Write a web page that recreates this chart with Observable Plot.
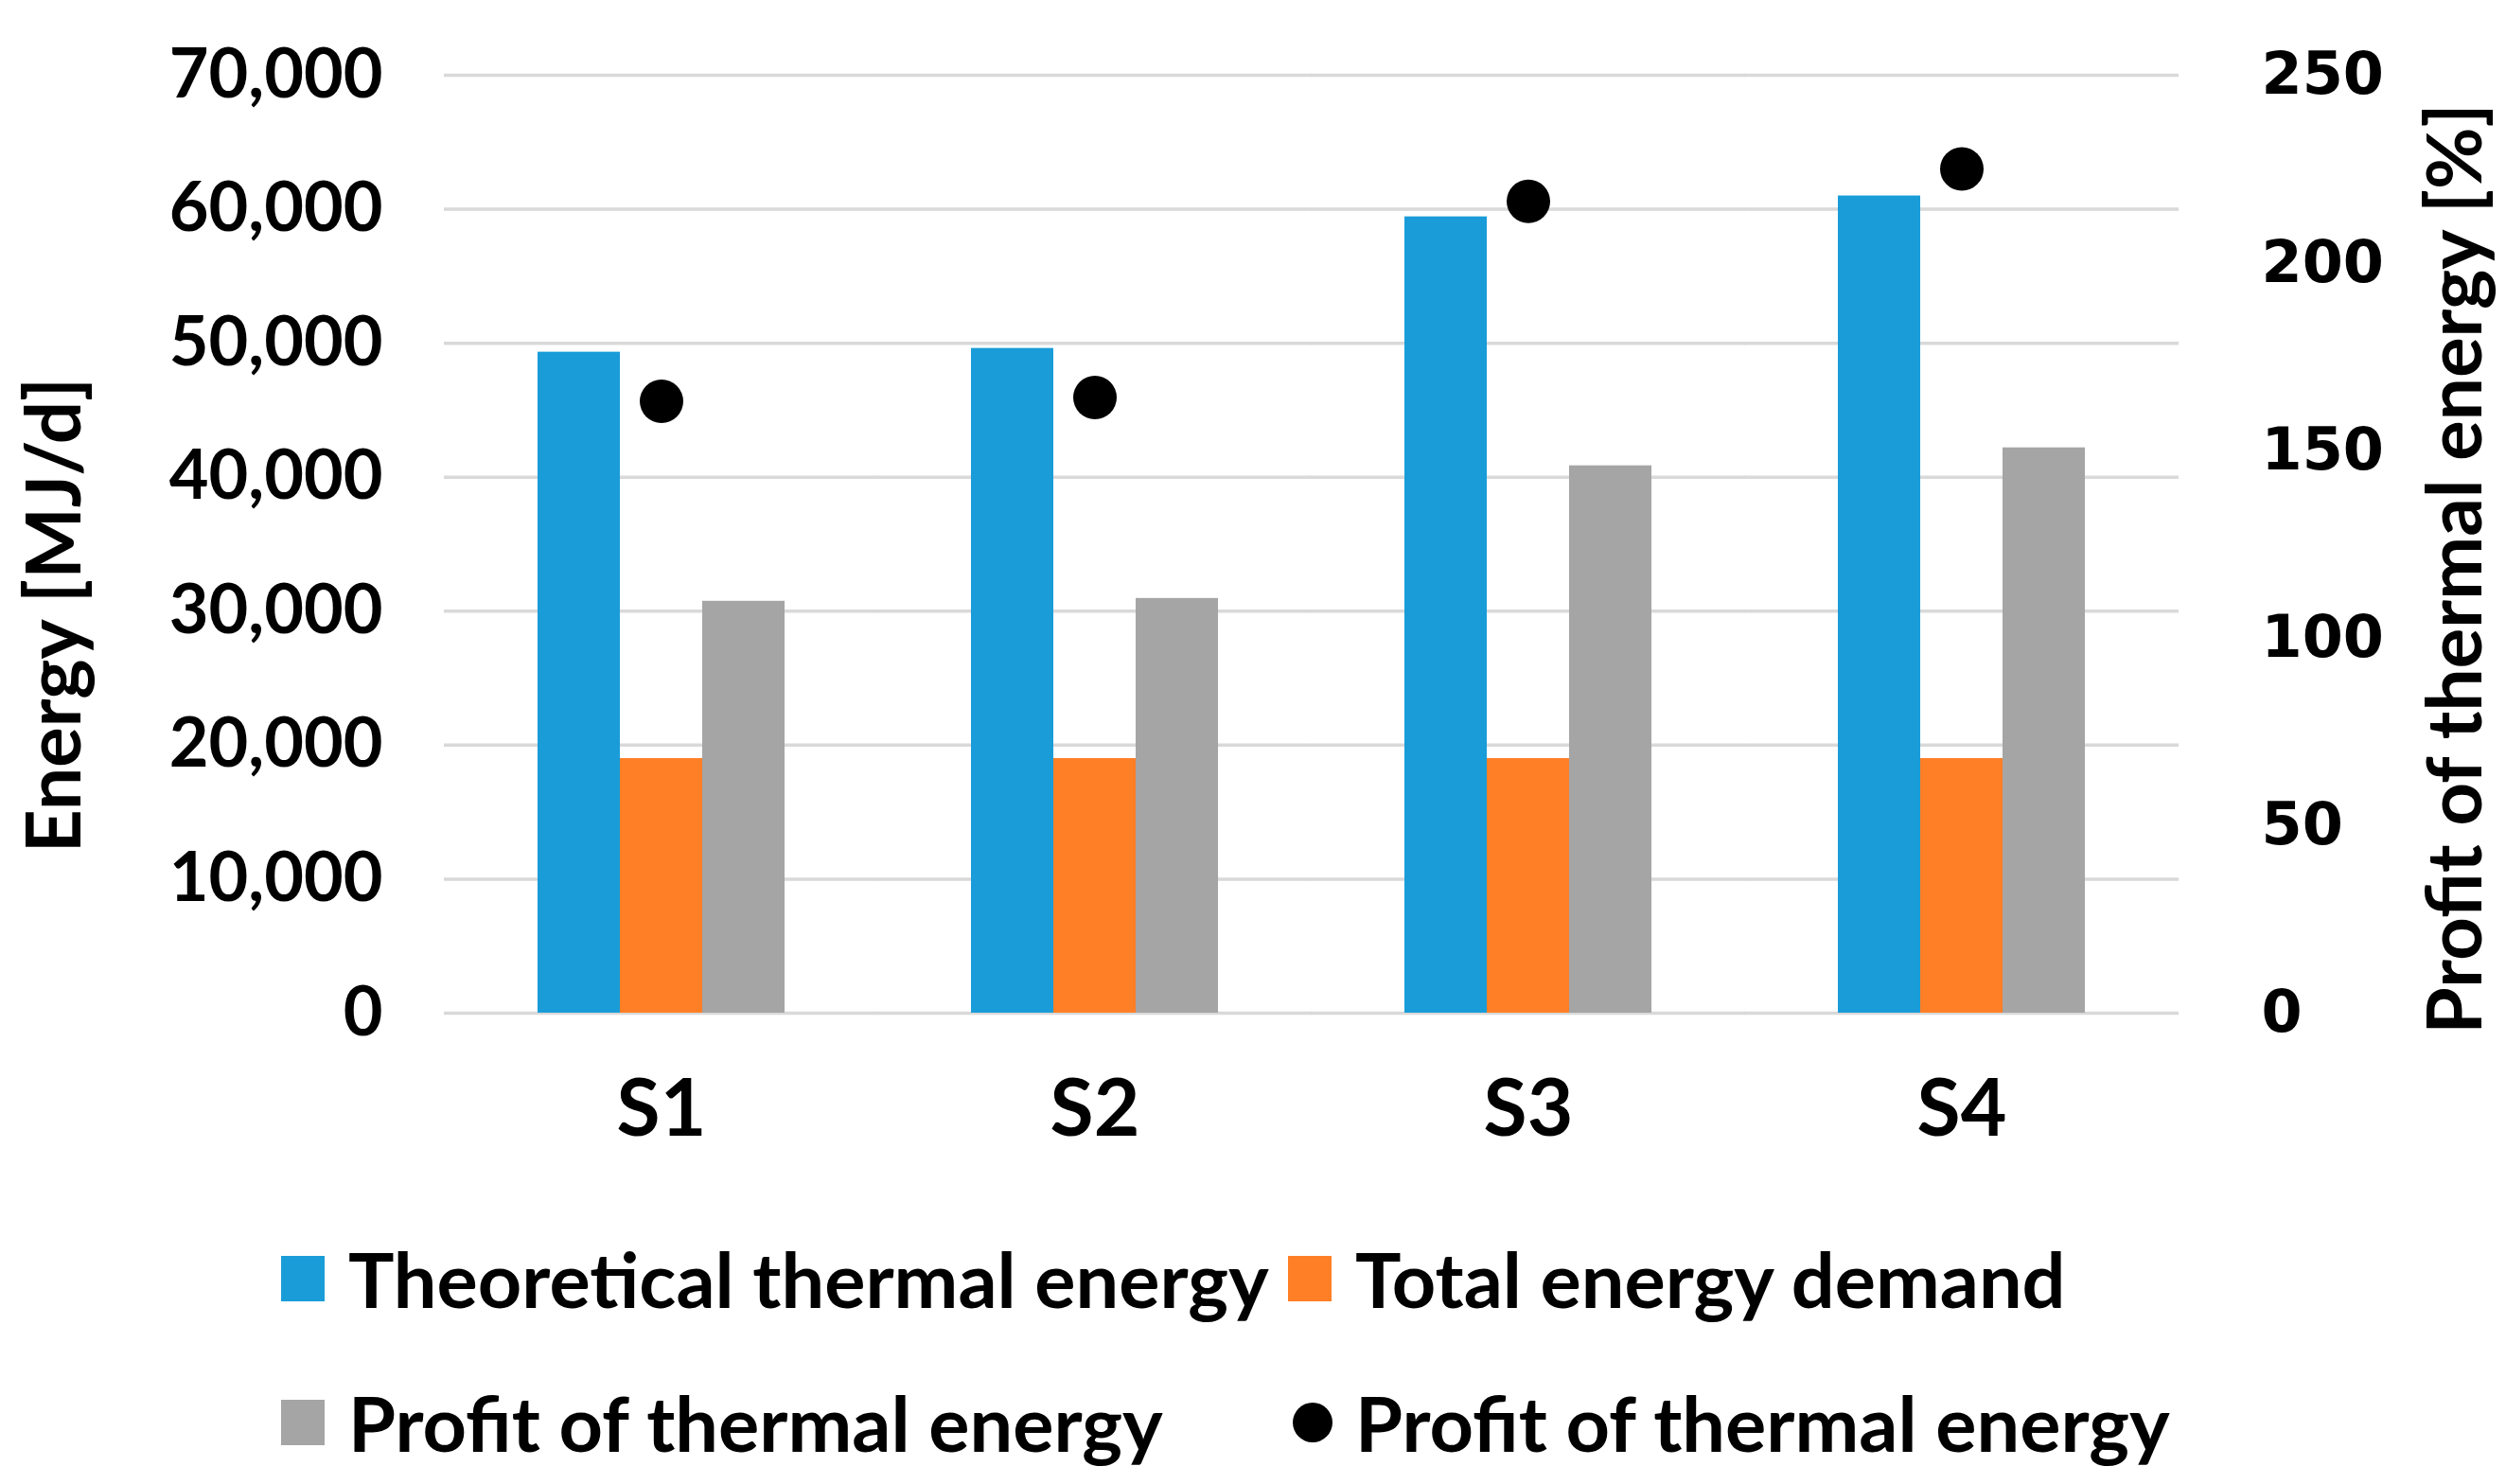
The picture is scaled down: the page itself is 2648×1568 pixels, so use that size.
<!DOCTYPE html>
<html>
<head>
<meta charset="utf-8">
<script src="https://cdn.jsdelivr.net/npm/d3@7"></script>
<script src="https://cdn.jsdelivr.net/npm/@observablehq/plot@0.6"></script>
<style>
  html, body { margin: 0; padding: 0; background: #ffffff; }
  #chart svg { display: block; }
  #legend { position: relative; width: 2648px; height: 318px; font-family: Lato, sans-serif; font-weight: 700; font-size: 81px; color: #000; }
  .item { position: absolute; display: flex; align-items: center; height: 100px; line-height: 100px; white-space: nowrap; }
  .sw { width: 46px; height: 48px; margin-right: 25px; }
  .dotsw { width: 42px; height: 42px; border-radius: 50%; background: #000; margin-right: 24px; }
</style>
</head>
<body>
<div id="chart"></div>
<div id="legend"></div>
<script>
// ---- data ----
const scenarios = ["S1", "S2", "S3", "S4"];
const series = ["Theoretical thermal energy", "Total energy demand", "Profit of thermal energy"];
const theoretical = [49330, 49610, 59430, 60990];   // MJ/d
const demand = [19000, 19000, 19000, 19000];        // MJ/d
const profit = [30740, 30950, 40850, 42190];        // MJ/d
const profitPct = [163.1, 164.1, 216.4, 225.0];     // %
const leftTicks = [0, 10000, 20000, 30000, 40000, 50000, 60000, 70000];
const rightTicks = [0, 50, 100, 150, 200, 250];
const colors = ["#1a9cd8", "#ff7f27", "#a5a5a5"];
const leftTitle = "Energy [MJ/d]";
const rightTitle = "Profit of thermal energy [%]";
const dotLabel = "Profit of thermal energy";

// ---- build tables ----
const values = [theoretical, demand, profit];
const barData = [];
scenarios.forEach((s, i) => series.forEach((name, j) => barData.push({scenario: s, series: name, value: values[j][i]})));
const dotData = scenarios.map((s, i) => ({scenario: s, pct: profitPct[i]}));
const ratio = leftTicks[leftTicks.length - 1] / rightTicks[rightTicks.length - 1];

const chart = Plot.plot({
  width: 2648,
  height: 1250,
  marginLeft: 468,
  marginRight: 346,
  marginTop: 79,
  marginBottom: 180,
  style: {fontFamily: "Lato, sans-serif", fontWeight: "bold", background: "#ffffff", color: "#000"},
  fx: {domain: scenarios, paddingInner: 0.426, paddingOuter: 0.213, label: null},
  x: {domain: series, padding: 0, axis: null},
  y: {domain: [0, 70000], axis: null},
  color: {domain: series, range: colors},
  marks: [
    Plot.ruleY(leftTicks, {stroke: "#d9d9d9", strokeWidth: 3.5, insetLeft: -98, insetRight: -98}),
    Plot.barY(barData, {fx: "scenario", x: "series", y: "value", fill: "series"}),
    Plot.dot(dotData, {fx: "scenario", x: () => series[1], y: d => d.pct * ratio, r: 23, fill: "#000", stroke: null}),
    Plot.axisY({ticks: leftTicks, tickFormat: d3.format(","), anchor: "left", tickSize: 0, tickPadding: 163, fontSize: 72, fontWeight: "bold", label: null}),
    Plot.axisY({ticks: rightTicks.map(v => v * ratio), tickFormat: d => String(Math.round(d / ratio)), anchor: "right", tickSize: 0, tickPadding: 185, fontSize: 62, fontFamily: "DejaVu Sans", fontWeight: "bold", label: null}),
    Plot.axisFx({anchor: "bottom", tickSize: 0, tickPadding: 70, fontSize: 84, fontWeight: "bold", label: null}),
    Plot.text([leftTitle], {facet: "super", frameAnchor: "left", textAnchor: "middle", lineAnchor: "middle", rotate: -90, dx: -508, dy: 75, fontSize: 80, fontWeight: "bold", text: d => d}),
    Plot.text([rightTitle], {facet: "super", frameAnchor: "right", textAnchor: "middle", lineAnchor: "middle", rotate: -90, dx: 392, dy: 26, fontSize: 80, fontWeight: "bold", text: d => d})
  ]
});
document.getElementById("chart").appendChild(chart);

// ---- legend ----
const legend = document.getElementById("legend");
const items = [
  {label: series[0], color: colors[0], left: 297, top: 51, dot: false},
  {label: series[1], color: colors[1], left: 1361, top: 51, dot: false},
  {label: series[2], color: colors[2], left: 297, top: 203, dot: false},
  {label: dotLabel, color: "#000", left: 1366, top: 203, dot: true}
];
items.forEach(it => {
  const el = document.createElement("div");
  el.className = "item";
  el.style.left = it.left + "px";
  el.style.top = it.top + "px";
  const sw = document.createElement("span");
  sw.className = it.dot ? "dotsw" : "sw";
  if (!it.dot) sw.style.background = it.color;
  const tx = document.createElement("span");
  tx.textContent = it.label;
  el.appendChild(sw);
  el.appendChild(tx);
  legend.appendChild(el);
});
</script>
</body>
</html>
